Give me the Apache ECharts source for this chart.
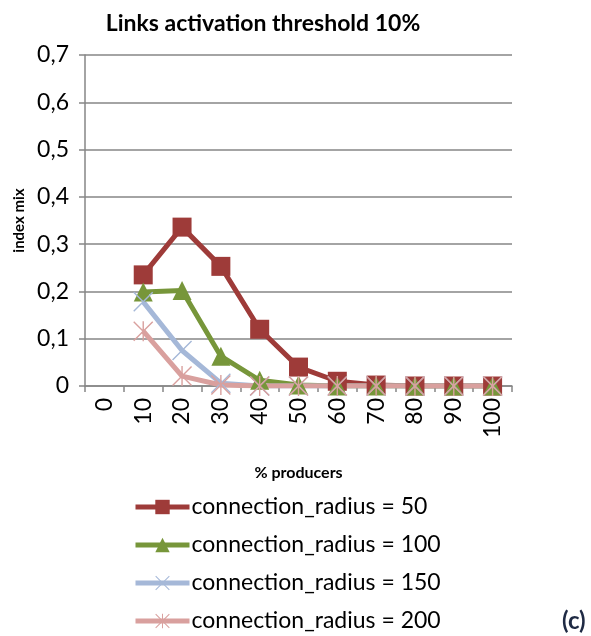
<!DOCTYPE html>
<html>
<head>
<meta charset="utf-8">
<script src="https://cdn.jsdelivr.net/npm/echarts@6/dist/echarts.min.js"></script>
<style>
  html, body { margin: 0; padding: 0; background: #fff; }
  #chart { width: 591px; height: 636px; }
</style>
</head>
<body>
<div id="chart"></div>
<script>
var categories = ['0', '10', '20', '30', '40', '50', '60', '70', '80', '90', '100'];
var seriesNames = ['connection_radius = 50', 'connection_radius = 100', 'connection_radius = 150', 'connection_radius = 200'];
var radius50 = [null, 0.235, 0.336, 0.253, 0.12, 0.04, 0.01, 0.002, 0, 0, 0];
var radius100 = [null, 0.199, 0.202, 0.063, 0.012, 0.002, 0, 0, 0, 0, 0];
var radius150 = [null, 0.178, 0.075, 0.006, 0, 0, 0, 0, 0, 0, 0];
var radius200 = [null, 0.116, 0.021, 0.002, 0, 0, 0, 0, 0, 0, 0];

var myChart = echarts.init(document.getElementById('chart'));

var font = 'Lato, "Liberation Sans", sans-serif';
var crossPath = 'path://M0,1 L1,0 L10,9 L19,0 L20,1 L11,10 L20,19 L19,20 L10,11 L1,20 L0,19 L9,10 Z';
var starPath = crossPath + ' M9.3,0 L10.7,0 L10.7,20 L9.3,20 Z';

function makeSeries(name, data, color, symbol, size) {
    return {
        name: name,
        type: 'line',
        data: data,
        symbol: symbol,
        symbolSize: size,
        showAllSymbol: true,
        connectNulls: false,
        lineStyle: {color: color, width: 5},
        itemStyle: {color: color},
        emphasis: {disabled: true}
    };
}

var option = {
    animation: false,
    textStyle: {fontFamily: font},
    title: {
        text: 'Links activation threshold 10%',
        left: 258,
        textAlign: 'center',
        top: 7,
        textStyle: {fontFamily: font, fontSize: 23, fontWeight: 'bold', color: '#000'}
    },
    legend: {
        orient: 'vertical',
        left: 133,
        top: 495,
        padding: 0,
        itemWidth: 54,
        itemHeight: 18,
        itemGap: 14,
        lineStyle: {width: 5},
        textStyle: {fontFamily: font, fontSize: 23, lineHeight: 24, color: '#000', padding: [0, 0, 0, -3]},
        data: seriesNames
    },
    grid: {left: 85, right: 79, top: 55, bottom: 250, containLabel: false},
    xAxis: {
        type: 'category',
        data: categories,
        boundaryGap: true,
        name: '% producers',
        nameLocation: 'middle',
        nameGap: 79,
        nameTextStyle: {fontFamily: font, fontSize: 16, fontWeight: 'bold', color: '#000'},
        axisLine: {lineStyle: {color: '#868686', width: 1.5}},
        axisTick: {show: true, alignWithLabel: false, length: 6, lineStyle: {color: '#868686', width: 1.5}},
        axisLabel: {rotate: 90, fontFamily: font, fontSize: 23, color: '#000', margin: 12, interval: 0}
    },
    yAxis: {
        type: 'value',
        min: 0,
        max: 0.7,
        interval: 0.1,
        name: 'index mix',
        nameLocation: 'middle',
        nameGap: 58,
        nameTextStyle: {fontFamily: font, fontSize: 15, fontWeight: 'bold', color: '#000'},
        axisLine: {show: true, lineStyle: {color: '#868686', width: 1.5}},
        axisTick: {show: true, length: 6, lineStyle: {color: '#868686', width: 1.5}},
        splitLine: {lineStyle: {color: '#868686', width: 1.5}},
        axisLabel: {
            fontFamily: font, fontSize: 23, color: '#000', margin: 16,
            formatter: function (v) { return String(Math.round(v * 10) / 10).replace('.', ','); }
        }
    },
    graphic: [{
        type: 'text',
        left: 562,
        top: 609,
        style: {text: '(c)', fontFamily: font, fontSize: 24, fontWeight: 'bold', fill: '#1f2a44'}
    }],
    series: [
        makeSeries(seriesNames[0], radius50, '#9E3B39', 'rect', 19),
        makeSeries(seriesNames[1], radius100, '#77963A', 'triangle', 19),
        makeSeries(seriesNames[2], radius150, '#A5B8D8', crossPath, 20),
        makeSeries(seriesNames[3], radius200, '#D9A09E', starPath, 20)
    ]
};

myChart.setOption(option);
</script>
</body>
</html>
